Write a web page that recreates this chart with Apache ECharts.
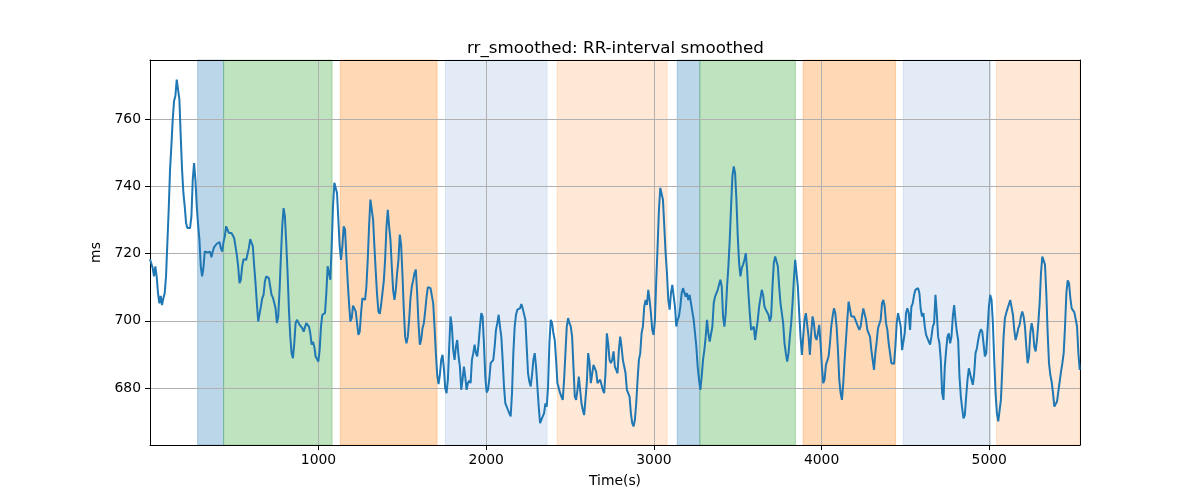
<!DOCTYPE html>
<html><head><meta charset="utf-8">
<script src="https://cdn.jsdelivr.net/npm/echarts@6/dist/echarts.min.js"></script>
<style>html,body{margin:0;padding:0;background:#fff}#chart{width:1200px;height:500px}</style>
</head><body><div id="chart"></div>
<script>
// RR-interval smoothed values (ms), read segment by segment along the time axis
const rrSeg1 = [718.3,718.1,715.7,713.2,716.2,713.2,708.2,705.2,707.4,704.7,
706.7,708.2,713.2,723.1,733.0,744.9,751.9,759.8,765.3,766.8,
771.7,772.2,765.8,754.8,744.9,738.0,734.0,729.1,727.6,728.1,
727.6,731.0,741.9,746.9,741.9,734.0,728.6,724.1,716.2,713.2,
715.7,720.6,720.9,720.3,720.5,720.5,718.9,720.6,721.9,722.4,
722.9,723.3,723.4,721.6,720.6,723.3,725.1,728.1,728.6,726.1,
725.9,726.1,726.0,724.6,722.1,719.6,716.2,711.2,712.2,716.2,
718.3,718.6,718.1,717.6,721.6,724.3,724.3,722.1,716.2,711.2,
705.2,699.8,699.3,704.2,706.7,707.7,711.7,713.2,713.4,712.7,
710.2,707.7,706.9,707.0,703.7,699.3,701.3,709.2,719.1,728.1,
733.5,731.0,723.1,714.2,703.3,695.3,690.4,688.9,693.3,699.3,
700.3,700.8,698.8,698.3,697.8,696.8];
const rrSeg2 = [696.8,699.3,699.8,698.3,696.3,692.9,693.8,692.3,689.4,689.6,
687.9,691.3,698.3,701.8,701.5,702.3,708.2,716.2,714.2,712.2,
722.1,734.0,741.0,741.5,738.0,730.1,722.1,718.1,722.1,728.1,
727.1,719.1,711.7,705.2,699.8,700.8,704.5,704.7,702.8,699.3,
695.8,696.8,702.3,706.7,706.2,706.2,710.2,718.1,728.1,736.0,
736.5,730.1,722.1,714.7,707.7,702.8,702.1,704.7,708.2,711.7,
718.1,727.6,733.0,728.1,724.1,716.2,709.2,706.2,709.2,714.2,
718.1,725.6,722.6,713.7,703.3,695.3,693.3,695.3,700.3,706.7,
710.2,712.0,714.2,715.2,708.2,699.3,692.9,694.3,697.8,699.3,
702.8,707.0,710.0,710.4,709.7,709.2,705.2,698.3,690.4,683.9,
681.2,683.9,688.4,689.9,685.9,680.0,678.5,682.5,692.3,701.3,
698.3,691.3,688.4,692.3,694.3,689.4];
const rrSeg3 = [686.4,679.5,682.5,686.4,683.4,679.5,681.5,682.2,681.5,688.4,
690.4,692.9,690.4,689.4,693.3,698.3,702.3,701.3,693.3,683.4,
678.7,679.5,682.5,687.4,687.9,688.4,692.3,697.3,699.3,701.8,
698.3,695.3,688.4,680.5,675.5,674.5,673.5,672.5,671.6,678.5,
690.4,698.3,701.8,703.3,703.5,703.7,705.0,703.7,703.5,700.3,
692.3,684.4,681.9,680.5,683.9,688.4,690.4,686.4,680.5,674.5,
669.6,670.1,671.6,672.5,675.5,674.5,680.5,693.3,700.3,699.3,
696.3,694.3,688.4,681.5,680.0,678.5,677.5,676.5,682.5,690.4,
698.3,700.8,699.3,698.3,695.3,686.4,677.5,676.5,679.5,683.4,
679.5,675.5,673.5,672.0,671.6,681.5,690.4,687.9,681.5,681.0,
686.9,687.4,684.9,681.5,681.5,682.5,682.2,679.5,678.5,684.4,
696.3,693.3,688.4,687.4,688.4,690.9];
const rrSeg4 = [686.4,685.4,684.4,691.3,695.3,692.3,688.4,687.9,684.4,679.5,
678.5,677.5,672.5,669.6,668.6,670.6,675.5,682.5,688.4,690.4,
696.3,698.3,704.2,706.2,704.7,709.2,706.2,702.3,697.3,695.8,
700.3,712.2,722.1,733.0,739.5,740.0,736.0,728.1,720.1,714.2,
706.2,703.3,708.2,710.7,710.2,704.2,698.3,700.3,701.3,704.2,
708.2,709.7,709.2,707.2,708.2,706.2,707.7,705.2,704.7,700.3,
696.3,692.3,686.4,682.5,679.5,683.4,688.4,691.3,695.3,700.3,
696.3,693.8,693.3,698.3,705.2,707.2,707.7,709.2,710.7,712.2,
710.2,701.3,698.3,702.3,710.2,716.2,724.1,734.0,743.0,745.9,
743.9,736.0,725.1,717.2,713.2,715.7,716.7,718.1,720.1,715.2,
708.2,702.3,697.3,696.8,698.3,694.3,694.8,700.3,704.2,706.7,
709.2,707.7,704.2,703.3,703.7,701.8];
const rrSeg5 = [699.8,701.3,710.2,717.2,719.1,719.6,716.2,710.2,705.2,702.3,
699.3,693.3,690.4,687.9,690.4,695.3,699.3,705.2,712.2,718.1,
717.6,710.2,702.3,695.3,689.9,695.3,700.3,702.3,701.8,695.3,
689.9,696.3,701.3,699.3,695.3,694.3,696.3,698.8,693.3,686.4,
681.5,682.5,686.9,687.4,689.4,693.3,698.3,701.3,703.7,702.3,
698.3,691.3,682.5,678.5,676.5,681.5,688.4,694.3,700.3,705.7,
706.2,701.3,701.3,701.3,700.8,699.3,698.3,697.3,698.3,701.3,
703.7,703.3,700.3,697.3,696.3,695.3,691.3,688.4,685.4,690.4,
693.8,697.8,698.3,700.3,705.2,706.2,704.2,699.3,697.3,693.3,
690.4,687.4,686.9,687.2,692.3,699.3,702.3,701.8,698.3,691.3,
690.9,696.3,702.3,703.7,702.3,697.3,704.2,705.2,707.7,709.2,
708.7,709.7,708.2,703.3,701.3,702.3];
const rrSeg6 = [698.3,695.8,695.3,693.8,692.9,695.3,698.3,699.3,707.7,702.3,
695.3,693.3,688.4,678.5,676.5,686.4,691.3,695.3,696.3,693.3,
695.3,701.3,704.7,700.3,696.8,694.3,683.4,677.5,674.0,671.0,
672.0,677.5,682.5,685.9,685.4,682.5,681.0,684.4,690.4,691.8,
694.3,696.3,697.5,696.8,693.3,689.4,690.4,697.3,704.2,707.7,
706.2,699.3,688.4,678.5,672.5,670.1,670.1,676.5,685.4,695.3,
700.8,702.3,703.7,704.2,706.2,706.2,701.8,697.3,694.3,695.8,
697.8,698.8,701.3,702.8,701.3,698.3,692.3,687.4,689.4,696.3,
699.3,697.3,692.3,690.9,694.3,699.3,705.2,714.2,719.1,719.6,
716.7,708.2,696.3,687.4,683.9,681.9,678.5,674.5,674.0,676.0,
679.0,681.9,684.9,687.4,690.4,698.3,708.2,712.0,711.2,706.7,
703.7,703.1,702.5,702.1,698.3,690.4,685.4];

const sampleStart = -5;     // s, first sample time
const sampleStep = 7.966;   // s between samples
const xRange = [-5, 5541];
const yRange = [663.1, 777.5];
const xTicks = [1000, 2000, 3000, 4000, 5000];
const yTicks = [680, 700, 720, 740, 760];

// condition bands (seconds)
const bandStart = [279, 434, 1130, 1757, 2423, 3139, 3274, 3890, 4487, 5043];
const bandEnd   = [434, 1081, 1707, 2363, 3079, 3274, 3844, 4441, 5008, 5541];
const bandKind  = ['A', 'B', 'C', 'D', 'E', 'A', 'B', 'C', 'D', 'E'];

const kindFill = {
  A: 'rgba(31,119,180,0.3)',
  B: 'rgba(44,160,44,0.3)',
  C: 'rgba(255,127,14,0.3)',
  D: 'rgba(31,101,180,0.125)',
  E: 'rgba(255,127,14,0.17)'
};

const rr = [].concat(rrSeg1, rrSeg2, rrSeg3, rrSeg4, rrSeg5, rrSeg6);
const lineData = rr.map((v, i) => [sampleStart + i * sampleStep, v]);

const font = 'DejaVu Sans';
const areas = bandStart.map((s, i) => [
  { xAxis: s, itemStyle: { color: kindFill[bandKind[i]], borderColor: kindFill[bandKind[i]], borderWidth: 1 } },
  { xAxis: bandEnd[i] }
]);

const chart = echarts.init(document.getElementById('chart'), null, { renderer: 'canvas' });
chart.setOption({
  animation: false,
  backgroundColor: '#ffffff',
  title: {
    text: 'rr_smoothed: RR-interval smoothed',
    left: 462, top: 35,
    textStyle: { fontFamily: font, fontSize: 16.7, fontWeight: 'normal', color: '#000' }
  },
  grid: { left: 150, right: 120, top: 60, bottom: 55, show: false },
  xAxis: [{
    type: 'value', min: xRange[0], max: xRange[1], position: 'bottom', z: 2,
    name: 'Time(s)', nameLocation: 'middle', nameGap: 29,
    nameTextStyle: { fontFamily: font, fontSize: 13.9, color: '#000' },
    axisLine: { show: true, onZero: false, lineStyle: { color: '#000', width: 1 } },
    axisTick: { show: true, length: 5, customValues: xTicks, lineStyle: { color: '#000', width: 1 } },
    axisLabel: { customValues: xTicks, formatter: v => String(v), color: '#000', fontFamily: font, fontSize: 13.9, margin: 8 },
    splitLine: { show: true, lineStyle: { color: '#b0b0b0', width: 1 } }
  }, {
    type: 'value', min: xRange[0], max: xRange[1], position: 'top', z: 2,
    axisLine: { show: true, onZero: false, lineStyle: { color: '#000', width: 1 } },
    axisTick: { show: false }, axisLabel: { show: false }, splitLine: { show: false }
  }],
  yAxis: [{
    type: 'value', min: yRange[0], max: yRange[1], position: 'left', z: 2,
    name: 'ms', nameLocation: 'middle', nameGap: 40, nameRotate: 90,
    nameTextStyle: { fontFamily: font, fontSize: 13.9, color: '#000' },
    axisLine: { show: true, onZero: false, lineStyle: { color: '#000', width: 1 } },
    axisTick: { show: true, length: 5, customValues: yTicks, lineStyle: { color: '#000', width: 1 } },
    axisLabel: { customValues: yTicks, formatter: v => String(v), color: '#000', fontFamily: font, fontSize: 13.9, margin: 9 },
    splitLine: { show: true, lineStyle: { color: '#b0b0b0', width: 1 } }
  }, {
    type: 'value', min: yRange[0], max: yRange[1], position: 'right', z: 2,
    axisLine: { show: true, onZero: false, lineStyle: { color: '#000', width: 1 } },
    axisTick: { show: false }, axisLabel: { show: false }, splitLine: { show: false }
  }],
  series: [{
    type: 'line',
    xAxisIndex: 0, yAxisIndex: 0,
    data: lineData,
    showSymbol: false, symbol: 'none',
    z: 3,
    lineStyle: { color: '#1f77b4', width: 2 },
    clip: true,
    markArea: { silent: true, z: 1, data: areas }
  }]
});
</script>
</body></html>
